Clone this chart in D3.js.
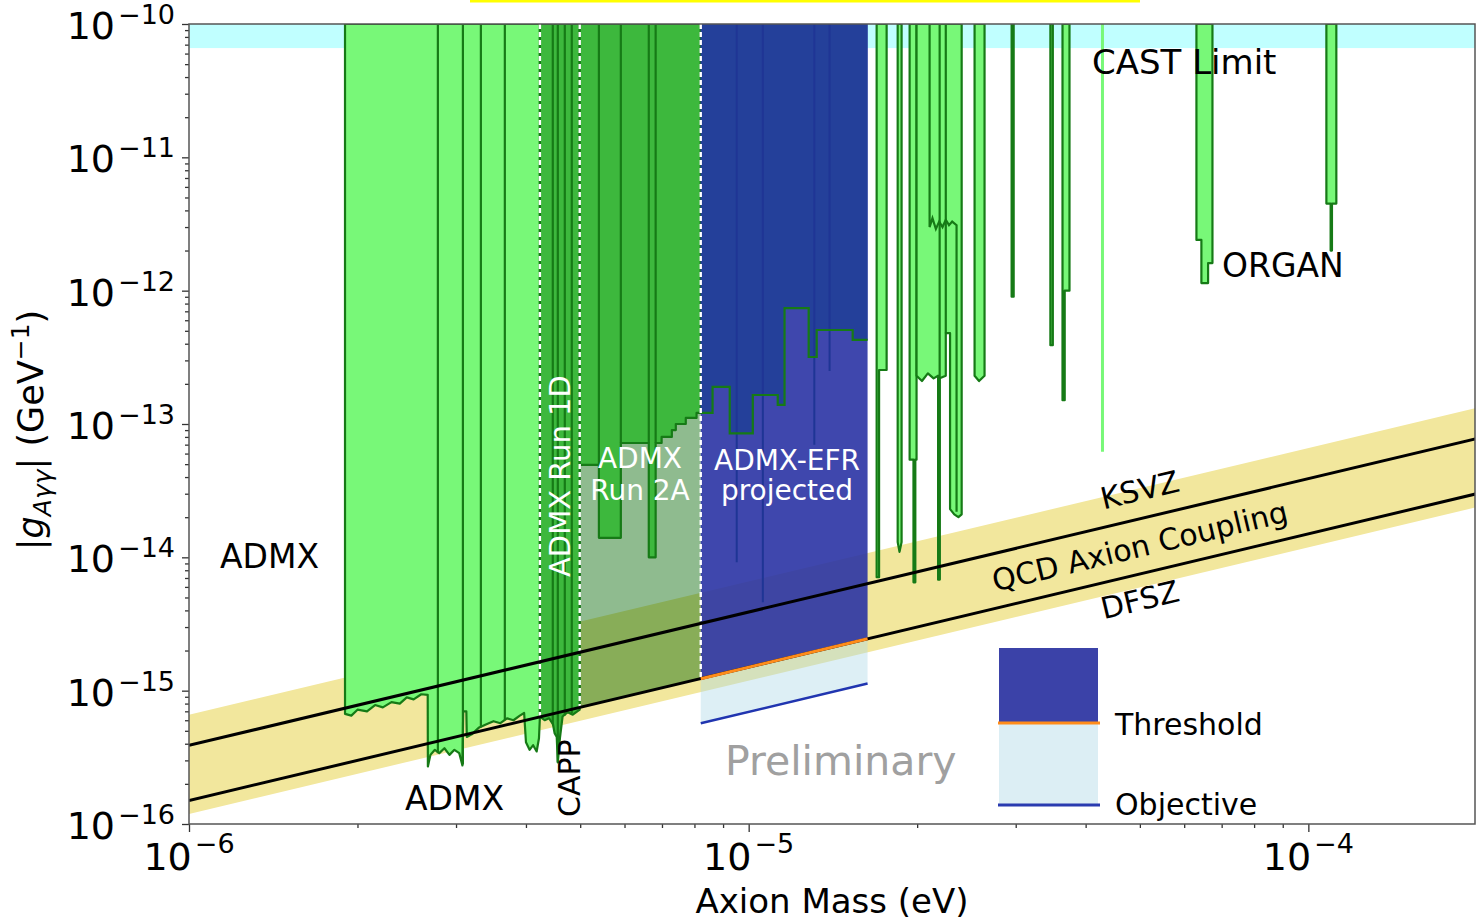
<!DOCTYPE html>
<html>
<head>
<meta charset="utf-8">
<script src="https://cdn.jsdelivr.net/npm/d3@7"></script>
<style>
  body { margin: 0; background: #fff; }
  svg text { font-family: "DejaVu Sans", sans-serif; }
</style>
</head>
<body>
<div id="chart"></div>
<script>
// ---- data (mass in eV, coupling in GeV^-1) ----
var gTop = 1e-10;
var castLimit = 6.6e-11;

var majorMass = [1e-6, 1e-5, 1e-4];
var majorG = [1e-16, 1e-15, 1e-14, 1e-13, 1e-12, 1e-11, 1e-10];

var ksvz = [[1e-6, 3.89e-16], [2e-4, 7.78e-14]];
var dfsz = [[1e-6, 1.5e-16], [2e-4, 3.0e-14]];
var bandTop = [[1e-6, 6.6e-16], [2e-4, 1.32e-13]];
var bandBottom = [[1e-6, 1.19e-16], [2e-4, 2.38e-14]];

// ADMX (light green) lower boundary
var admxEdge = [
  [1.90e-6, gTop], [1.90e-6, 6.7e-16], [1.95e-6, 6.5e-16], [2.00e-6, 7.2e-16], [2.08e-6, 7.0e-16],
  [2.15e-6, 7.8e-16], [2.22e-6, 7.5e-16], [2.30e-6, 8.2e-16], [2.38e-6, 8.0e-16], [2.45e-6, 8.9e-16],
  [2.52e-6, 8.6e-16], [2.60e-6, 9.4e-16], [2.67e-6, 9.3e-16],
  [2.672e-6, 2.7e-16], [2.70e-6, 3.3e-16], [2.75e-6, 3.6e-16], [2.80e-6, 3.4e-16], [2.86e-6, 3.7e-16],
  [2.92e-6, 3.3e-16], [2.98e-6, 3.6e-16], [3.04e-6, 3.4e-16], [3.08e-6, 2.75e-16],
  [3.09e-6, 7.0e-16], [3.13e-6, 7.0e-16], [3.136e-6, 4.5e-16], [3.2e-6, 4.7e-16], [3.3e-6, 5.3e-16],
  [3.4e-6, 5.6e-16], [3.5e-6, 5.9e-16], [3.6e-6, 5.7e-16], [3.7e-6, 6.2e-16], [3.8e-6, 6.0e-16],
  [3.9e-6, 6.5e-16], [3.97e-6, 6.8e-16], [4.0e-6, 4.1e-16], [4.06e-6, 3.6e-16], [4.12e-6, 3.9e-16],
  [4.18e-6, 3.5e-16], [4.22e-6, 4.4e-16], [4.236e-6, 6.3e-16], [4.236e-6, gTop]
];

// ADMX Run 1D + CAPP
var run1dEdge = [
  [4.236e-6, gTop], [4.236e-6, 6.4e-16], [4.32e-6, 6.0e-16], [4.40e-6, 6.2e-16], [4.47e-6, 5.6e-16],
  [4.50e-6, 4.8e-16], [4.54e-6, 4.5e-16], [4.56e-6, 2.9e-16], [4.60e-6, 4.4e-16], [4.65e-6, 6.4e-16],
  [4.75e-6, 6.9e-16], [4.85e-6, 6.6e-16], [4.99e-6, 7.2e-16], [4.99e-6, gTop]
];

// ADMX Run 2A
var run2aEdge = [
  [4.99e-6, gTop], [4.99e-6, 4.93e-14], [5.40e-6, 4.93e-14], [5.40e-6, 1.40e-14], [5.91e-6, 1.40e-14],
  [5.91e-6, 7.2e-14], [6.63e-6, 7.2e-14], [6.63e-6, 1.0e-14], [6.82e-6, 1.0e-14], [6.82e-6, 7.2e-14],
  [6.99e-6, 7.2e-14], [6.99e-6, 8.0e-14], [7.29e-6, 8.0e-14], [7.29e-6, 9.0e-14], [7.41e-6, 9.0e-14],
  [7.41e-6, 1.0e-13], [7.72e-6, 1.0e-13], [7.72e-6, 1.11e-13], [8.07e-6, 1.11e-13], [8.07e-6, 1.21e-13],
  [8.21e-6, 1.21e-13], [8.21e-6, gTop]
];
var run2aFloor = [[4.99e-6, 7.5e-16], [8.21e-6, 1.23e-15]];

// ADMX-EFR projected
var efrThreshold = [[8.21e-6, 1.23e-15], [1.631e-5, 2.45e-15]];
var efrObjective = [[8.21e-6, 5.7e-16], [1.631e-5, 1.13e-15]];
var efrEdge = [
  [8.21e-6, gTop], [8.21e-6, 1.21e-13], [8.62e-6, 1.21e-13], [8.62e-6, 1.9e-13], [9.25e-6, 1.9e-13],
  [9.25e-6, 8.5e-14], [10.17e-6, 8.5e-14], [10.17e-6, 1.65e-13], [11.27e-6, 1.65e-13], [11.27e-6, 1.39e-13],
  [11.59e-6, 1.39e-13], [11.59e-6, 7.4e-13], [12.80e-6, 7.4e-13], [12.80e-6, 3.18e-13], [13.23e-6, 3.18e-13],
  [13.23e-6, 5.07e-13], [15.34e-6, 5.07e-13], [15.34e-6, 4.27e-13], [16.31e-6, 4.27e-13], [16.31e-6, gTop]
];
var efrFaint = [[9.52e-6, 9.2e-15], [10.6e-6, 4.6e-15], [13.1e-6, 7e-14], [13.95e-6, 2.5e-13]];

// other haloscopes (HAYSTAC, CAPP, QUAX, ORGAN ...)
var spikeEdges = [
  [[16.93e-6, gTop], [16.93e-6, 7.1e-15], [17.1e-6, 7.1e-15], [17.1e-6, 2.54e-13], [17.64e-6, 2.54e-13], [17.64e-6, gTop]],
  [[18.46e-6, gTop], [18.46e-6, 1.3e-14], [18.6e-6, 1.1e-14], [18.76e-6, 1.3e-14], [18.76e-6, gTop]],
  [[19.39e-6, gTop], [19.39e-6, 5.4e-14], [19.7e-6, 5.4e-14], [19.7e-6, 6.5e-15], [19.85e-6, 6.5e-15], [19.85e-6, 5.4e-14], [19.95e-6, 5.4e-14], [19.95e-6, gTop]],
  [[19.95e-6, gTop], [19.95e-6, 2.3e-13], [20.4e-6, 2.1e-13], [20.9e-6, 2.4e-13], [21.4e-6, 2.2e-13], [21.8e-6, 2.3e-13],
   [21.8e-6, 6.8e-15], [21.94e-6, 6.8e-15], [21.94e-6, 2.2e-13], [22.5e-6, 2.3e-13], [22.5e-6, 4.8e-13], [22.9e-6, 4.8e-13],
   [22.9e-6, 2.3e-14], [23.3e-6, 2.1e-14], [23.7e-6, 2.0e-14], [24.02e-6, 2.1e-14], [24.02e-6, gTop]],
  [[25.33e-6, gTop], [25.33e-6, 2.3e-13], [25.8e-6, 2.1e-13], [26.39e-6, 2.3e-13], [26.39e-6, gTop]],
  [[29.5e-6, gTop], [29.5e-6, 9e-13], [29.75e-6, 9e-13], [29.75e-6, gTop]],
  [[34.6e-6, gTop], [34.6e-6, 3.9e-13], [34.95e-6, 3.9e-13], [34.95e-6, gTop]],
  [[36.37e-6, gTop], [36.37e-6, 1.51e-13], [36.7e-6, 1.51e-13], [36.7e-6, 1.0e-12], [37.43e-6, 1.0e-12], [37.43e-6, gTop]],
  [[63.1e-6, gTop], [63.1e-6, 2.4e-12], [64.4e-6, 2.4e-12], [64.4e-6, 1.14e-12], [66.2e-6, 1.14e-12], [66.2e-6, 1.61e-12], [67.4e-6, 1.61e-12], [67.4e-6, gTop]],
  [[107.7e-6, gTop], [107.7e-6, 4.5e-12], [109.6e-6, 4.5e-12], [109.6e-6, 2.0e-12], [110.2e-6, 2.0e-12], [110.2e-6, 4.5e-12], [112.2e-6, 4.5e-12], [112.2e-6, gTop]]
];
// ragged sub-scan limit inside the 20-24 ueV block
var innerContour = [
  [21.05e-6, gTop], [21.05e-6, 3.0e-12], [21.3e-6, 3.5e-12], [21.6e-6, 2.9e-12], [21.9e-6, 3.3e-12],
  [22.2e-6, 3.0e-12], [22.5e-6, 3.4e-12], [22.8e-6, 3.1e-12], [23.1e-6, 3.3e-12], [23.52e-6, 3.1e-12], [23.52e-6, 2.2e-14]
];
var lightSpikes = [[42.87e-6, 6.2e-14]];

// scan boundaries drawn as dark lines from the top
var splitLines = [
  [2.784e-6, 3.4e-16], [3.086e-6, 2.8e-16], [3.323e-6, 5.3e-16], [3.667e-6, 6.0e-16],
  [4.467e-6, 5.6e-16], [4.56e-6, 2.9e-16], [4.693e-6, 6.5e-16], [4.83e-6, 6.8e-16],
  [5.40e-6, 4.93e-14], [5.91e-6, 7.2e-14], [6.63e-6, 7.2e-14], [6.82e-6, 7.2e-14],
  [10.17e-6, 8.5e-14], [11.27e-6, 1.65e-13], [21.94e-6, 6.8e-15], [22.5e-6, 4.8e-13]
];
var dashLines = [[4.236e-6, 6.35e-16], [4.99e-6, 7.5e-16], [8.21e-6, 1.23e-15]];

// ---- chart ----
var svgWidth = 1476, svgHeight = 922;
var x = d3.scaleLog().domain([1e-6, 1.985e-4]).range([189, 1475]);
var y = d3.scaleLog().domain([1e-16, 1e-10]).range([824, 24]);

var svg = d3.select("#chart").append("svg")
  .attr("width", svgWidth)
  .attr("height", svgHeight);

svg.append("defs").append("clipPath").attr("id", "clip")
  .append("rect")
  .attr("x", 189).attr("y", 24)
  .attr("width", 1475 - 189).attr("height", 824 - 24);

// yellow strip at top edge of the picture
svg.append("rect").attr("x", 470).attr("y", 0).attr("width", 670).attr("height", 2.5).attr("fill", "#ffff00");

var plot = svg.append("g").attr("clip-path", "url(#clip)");
var line = d3.line().x(d => x(d[0])).y(d => y(d[1]));

var lightGreen = "#78f878", midGreen = "#3db83d", edgeGreen = "#167a16";

// CAST limit
plot.append("rect")
  .attr("x", x(1e-6)).attr("y", y(gTop))
  .attr("width", x(1.985e-4) - x(1e-6))
  .attr("height", y(castLimit) - y(gTop))
  .attr("fill", "#c0ffff");

// QCD band
plot.append("path")
  .attr("d", line(bandTop.concat(bandBottom.slice().reverse())) + "Z")
  .attr("fill", "#f2e79d");

function region(pts, fill, stroke, sw) {
  plot.append("path")
    .attr("d", line(pts) + "Z")
    .attr("fill", fill)
    .attr("stroke", stroke)
    .attr("stroke-width", sw)
    .attr("stroke-linejoin", "round");
}

region(admxEdge, lightGreen, edgeGreen, 2.2);
region(run1dEdge, midGreen, edgeGreen, 2.2);

// Run 2A: transparent overlay down to DFSZ, then green above the contour
plot.append("path")
  .attr("d", line([[run2aFloor[0][0], gTop]].concat(run2aFloor).concat([[run2aFloor[1][0], gTop]])) + "Z")
  .attr("fill", "#006400")
  .attr("fill-opacity", 0.44);
region(run2aEdge, midGreen, edgeGreen, 2.2);

spikeEdges.forEach(function (pts) {
  region(pts, lightGreen, edgeGreen, 2.2);
});
plot.append("path")
  .attr("d", line(innerContour))
  .attr("fill", "none")
  .attr("stroke", edgeGreen)
  .attr("stroke-width", 2.2);

plot.selectAll(".light-spike")
  .data(lightSpikes)
  .enter()
  .append("line")
  .attr("x1", d => x(d[0])).attr("x2", d => x(d[0]))
  .attr("y1", y(gTop)).attr("y2", d => y(d[1]))
  .attr("stroke", lightGreen)
  .attr("stroke-width", 3);

plot.selectAll(".split")
  .data(splitLines)
  .enter()
  .append("line")
  .attr("x1", d => x(d[0])).attr("x2", d => x(d[0]))
  .attr("y1", y(gTop)).attr("y2", d => y(d[1]))
  .attr("stroke", edgeGreen)
  .attr("stroke-width", 2.2);

// ADMX-EFR projected
plot.append("path")
  .attr("d", line(efrThreshold.concat(efrObjective.slice().reverse())) + "Z")
  .attr("fill", "#add8e6")
  .attr("fill-opacity", 0.42);
plot.append("path")
  .attr("d", line([[efrThreshold[0][0], gTop]].concat(efrThreshold).concat([[efrThreshold[1][0], gTop]])) + "Z")
  .attr("fill", "#2a33a4")
  .attr("fill-opacity", 0.9);
plot.append("path")
  .attr("d", line(efrEdge) + "Z")
  .attr("fill", "#24409a");
plot.selectAll(".faint")
  .data(efrFaint)
  .enter()
  .append("line")
  .attr("x1", d => x(d[0])).attr("x2", d => x(d[0]))
  .attr("y1", y(gTop)).attr("y2", d => y(d[1]))
  .attr("stroke", "#1f3595")
  .attr("stroke-width", 2);
plot.append("path")
  .attr("d", line(efrEdge.slice(1, -1)))
  .attr("fill", "none")
  .attr("stroke", edgeGreen)
  .attr("stroke-width", 2.2);

// white dashed boundaries
plot.selectAll(".dash")
  .data(dashLines)
  .enter()
  .append("line")
  .attr("x1", d => x(d[0])).attr("x2", d => x(d[0]))
  .attr("y1", y(gTop)).attr("y2", d => y(d[1]))
  .attr("stroke", "#fff")
  .attr("stroke-width", 2.4)
  .attr("stroke-dasharray", "5,3");

// KSVZ / DFSZ
[ksvz, dfsz].forEach(function (l) {
  plot.append("path").attr("d", line(l)).attr("fill", "none").attr("stroke", "#000").attr("stroke-width", 3);
});
plot.append("path").attr("d", line(efrThreshold)).attr("fill", "none").attr("stroke", "#ff8c1a").attr("stroke-width", 3);
plot.append("path").attr("d", line(efrObjective)).attr("fill", "none").attr("stroke", "#2035b0").attr("stroke-width", 2.5);

// ---- labels inside the plot ----
function label(txt, px, py, size, color, anchor, rot) {
  var t = svg.append("text")
    .attr("x", px).attr("y", py)
    .attr("font-size", size)
    .attr("fill", color)
    .attr("text-anchor", anchor || "start")
    .text(txt);
  if (rot) t.attr("transform", "rotate(" + rot + "," + px + "," + py + ")");
  return t;
}
label("CAST Limit", 1092, 74, 34, "#000");
label("ORGAN", 1222, 277, 33, "#000");
label("ADMX", 220, 568, 33, "#000");
label("ADMX", 405, 810, 33, "#000");
label("CAPP", 580, 817, 30, "#000", "start", -90);
label("ADMX Run 1D", 570, 577, 29, "#fff", "start", -90);
label("ADMX", 640, 468, 28, "#fff", "middle");
label("Run 2A", 640, 500, 28, "#fff", "middle");
label("ADMX-EFR", 787, 470, 28, "#fff", "middle");
label("projected", 787, 500, 28, "#fff", "middle");
label("Preliminary", 725, 775, 41, "#a0a0a0");

var angle = Math.atan2(y(ksvz[1][1]) - y(ksvz[0][1]), x(ksvz[1][0]) - x(ksvz[0][0])) * 180 / Math.PI;
var bandLabels = [["QCD Axion Coupling", 5e-5, 1.21e-14, 30], ["KSVZ", 5e-5, 3.2e-14, 30], ["DFSZ", 5e-5, 4.8e-15, 30]];
bandLabels.forEach(function (b) {
  label(b[0], x(b[1]), y(b[2]), b[3], "#000", "middle", angle)
    .attr("dominant-baseline", "central");
});

// legend
var lg = svg.append("g");
lg.append("rect").attr("x", 999).attr("y", 648).attr("width", 99).attr("height", 75).attr("fill", "#3b42a8");
lg.append("rect").attr("x", 999).attr("y", 723).attr("width", 99).attr("height", 82).attr("fill", "#dceef4");
lg.append("line").attr("x1", 998).attr("x2", 1100).attr("y1", 723).attr("y2", 723).attr("stroke", "#ff8c1a").attr("stroke-width", 3);
lg.append("line").attr("x1", 998).attr("x2", 1100).attr("y1", 805).attr("y2", 805).attr("stroke", "#2a3bb0").attr("stroke-width", 3);
label("Threshold", 1115, 735, 30, "#000");
label("Objective", 1115, 815, 30, "#000");

// ---- axes ----
var minorMass = [], minorG = [];
d3.range(-6, -3).forEach(function (e) {
  d3.range(2, 10).forEach(function (k) {
    var v = k * Math.pow(10, e);
    if (v < 1.985e-4) minorMass.push(v);
  });
});
d3.range(-16, -10).forEach(function (e) {
  d3.range(2, 10).forEach(function (k) { minorG.push(k * Math.pow(10, e)); });
});

function styleAxis(g) {
  g.select(".domain").remove();
  g.selectAll("line").attr("stroke", "#333").attr("stroke-width", 1.3);
}
svg.append("g").attr("transform", "translate(0,824)")
  .call(d3.axisBottom(x).tickValues(minorMass).tickSize(4).tickFormat(""))
  .call(styleAxis);
svg.append("g").attr("transform", "translate(0,824)")
  .call(d3.axisBottom(x).tickValues(majorMass).tickSize(8).tickFormat(""))
  .call(styleAxis);
svg.append("g").attr("transform", "translate(189,0)")
  .call(d3.axisLeft(y).tickValues(minorG).tickSize(4).tickFormat(""))
  .call(styleAxis);
svg.append("g").attr("transform", "translate(189,0)")
  .call(d3.axisLeft(y).tickValues(majorG).tickSize(7).tickFormat(""))
  .call(styleAxis);

svg.append("rect")
  .attr("x", 189).attr("y", 24)
  .attr("width", 1475 - 189).attr("height", 800)
  .attr("fill", "none").attr("stroke", "#555").attr("stroke-width", 1.5);

function powLabel(t, v) {
  var e = Math.round(Math.log10(v));
  t.append("tspan").text("10");
  t.append("tspan").attr("font-size", 27).attr("dx", 3).attr("dy", t.attr("data-dy")).text("\u2212" + (-e));
}
svg.selectAll(".xlab").data(majorMass).enter().append("text")
  .attr("x", d => x(d)).attr("y", 870)
  .attr("font-size", 38).attr("text-anchor", "middle")
  .attr("data-dy", -17)
  .each(function (d) { powLabel(d3.select(this), d); });
svg.selectAll(".ylab").data(majorG).enter().append("text")
  .attr("x", 175).attr("y", d => y(d) + 15)
  .attr("font-size", 38).attr("text-anchor", "end")
  .attr("data-dy", -15)
  .each(function (d) { powLabel(d3.select(this), d); });

svg.append("text")
  .attr("x", 832).attr("y", 913)
  .attr("font-size", 34).attr("text-anchor", "middle")
  .text("Axion Mass (eV)");

var yt = svg.append("text")
  .attr("transform", "translate(43,430) rotate(-90)")
  .attr("font-size", 35).attr("text-anchor", "middle");
yt.append("tspan").text("|");
yt.append("tspan").attr("font-style", "italic").text("g");
yt.append("tspan").attr("font-style", "italic").attr("font-size", 25).attr("dy", 8).text("A\u03b3\u03b3");
yt.append("tspan").attr("dy", -8).text("| (GeV");
yt.append("tspan").attr("font-size", 25).attr("dy", -14).text("\u22121");
yt.append("tspan").attr("dy", 14).text(")");
</script>
</body>
</html>
